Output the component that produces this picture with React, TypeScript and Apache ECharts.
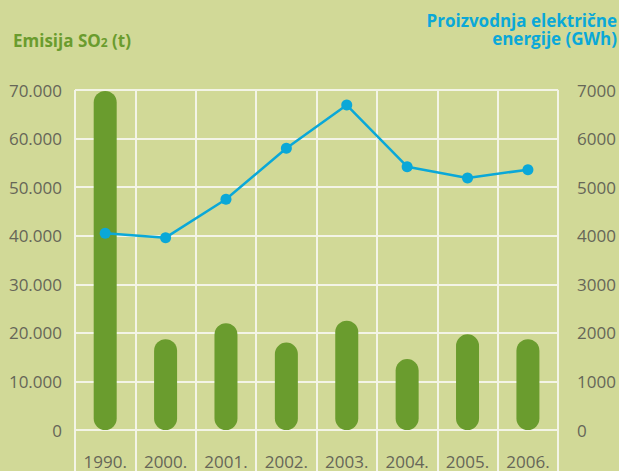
import React, { useEffect, useRef } from "react";
import * as echarts from "echarts";

const categories = ["1990.", "2000.", "2001.", "2002.", "2003.", "2004.", "2005.", "2006."];
const so2Emission = [69800, 18700, 22000, 18000, 22500, 14600, 19700, 18700];
const electricity = [4050, 3960, 4750, 5800, 6690, 5420, 5190, 5360];
const leftTicks = { min: 0, max: 70000, interval: 10000 };
const rightTicks = { min: 0, max: 7000, interval: 1000 };
const leftTitle = ["Emisija SO", "2", " (t)"];
const rightTitle = ["Proizvodnja električne", "energije (GWh)"];

const FONT = "'Open Sans', 'Noto Sans', sans-serif";
const BG = "#d1d997";
const GREEN = "#6a9c2e";
const BLUE = "#0aa8d8";
const GRAY = "#666658";
const GRID = "#f3f4e6";

function fmtThousands(v: number): string {
  if (v === 0) return "0";
  const s = String(Math.round(v));
  return s.replace(/\B(?=(\d{3})+(?!\d))/g, ".");
}

export default function App() {
  const ref = useRef<HTMLDivElement>(null);
  useEffect(() => {
    if (!ref.current) return;
    const chart = echarts.init(ref.current, null, { renderer: "svg" });
    chart.setOption({
      animation: false,
      backgroundColor: BG,
      grid: { left: 75, right: 58, top: 90, bottom: 41, containLabel: false },
      graphic: [
        {
          type: "text",
          x: 13,
          y: 32,
          style: {
            text: `{a|${leftTitle[0]}}{s|${leftTitle[1]}}{a|${leftTitle[2]}}`,
            rich: {
              a: { fontFamily: FONT, fontWeight: "bold", fontSize: 17, fill: GREEN, color: GREEN },
              s: { fontFamily: FONT, fontWeight: "bold", fontSize: 12, fill: GREEN, color: GREEN, padding: [4, 0, 0, 0] },
            },
          },
        },
        {
          type: "text",
          x: 617,
          y: 12,
          style: {
            text: rightTitle[0],
            fill: BLUE,
            font: `bold 17px ${FONT}`,
            align: "right",
            verticalAlign: "top",
            lineHeight: 17,
          },
        },
        {
          type: "text",
          x: 617,
          y: 30,
          style: {
            text: rightTitle[1],
            fill: BLUE,
            font: `bold 17px ${FONT}`,
            align: "right",
            verticalAlign: "top",
            lineHeight: 17,
          },
        },
      ],
      xAxis: [
        {
          type: "category",
          data: categories,
          boundaryGap: true,
          position: "bottom",
          axisLine: { show: false },
          axisTick: { show: true, interval: 0, length: 45, lineStyle: { color: GRID, width: 2 } },
          splitLine: { show: true, interval: 0, lineStyle: { color: GRID, width: 2 } },
          axisLabel: { color: GRAY, fontFamily: FONT, fontSize: 17, margin: 23, interval: 0 },
        },
        {
          type: "category",
          data: categories,
          boundaryGap: true,
          position: "top",
          axisLine: { show: false },
          axisTick: { show: true, interval: 0, length: 8, lineStyle: { color: GRID, width: 2 } },
          axisLabel: { show: false },
          splitLine: { show: false },
        },
      ],
      yAxis: [
        {
          type: "value",
          position: "left",
          ...leftTicks,
          axisLine: { show: false },
          axisTick: { show: false },
          splitLine: { show: true, lineStyle: { color: GRID, width: 2 } },
          axisLabel: {
            color: GRAY,
            fontFamily: FONT,
            fontSize: 17,
            margin: 13,
            formatter: (v: number) => fmtThousands(v),
          },
        },
        {
          type: "value",
          position: "right",
          ...rightTicks,
          axisLine: { show: false },
          axisTick: { show: false },
          splitLine: { show: false },
          axisLabel: {
            color: GRAY,
            fontFamily: FONT,
            fontSize: 17,
            margin: 19,
            formatter: (v: number) => String(v),
          },
        },
      ],
      series: [
        {
          type: "bar",
          name: "Emisija SO2",
          data: so2Emission,
          xAxisIndex: 0,
          yAxisIndex: 0,
          barWidth: 23,
          itemStyle: { color: GREEN, borderRadius: 11.5 },
        },
        {
          type: "line",
          name: "Proizvodnja",
          data: electricity,
          xAxisIndex: 0,
          yAxisIndex: 1,
          symbol: "circle",
          symbolSize: 11,
          lineStyle: { color: BLUE, width: 2.5 },
          itemStyle: { color: BLUE },
        },
      ],
    });
    return () => chart.dispose();
  }, []);
  return (
    <div
      ref={ref}
      style={{ position: "fixed", left: 0, top: 0, width: 619, height: 471 }}
    />
  );
}
